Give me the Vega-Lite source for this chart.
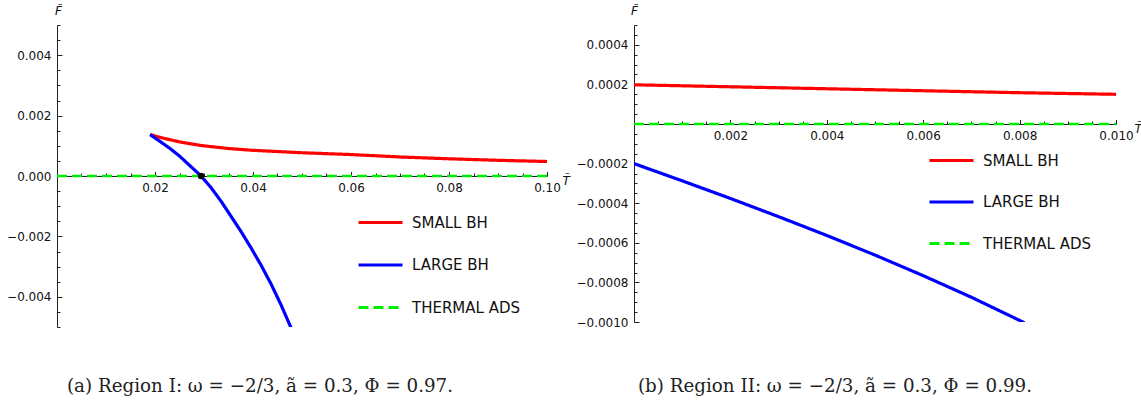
{
  "$schema": "https://vega.github.io/schema/vega-lite/v6.json",
  "background": "white",
  "padding": {"left": 6, "top": 4, "right": 5, "bottom": 5},
  "bounds": "flush",
  "spacing": 87,
  "config": {
    "view": {"stroke": null},
    "axis": {
      "grid": false,
      "domainColor": "#222222",
      "domainWidth": 1,
      "tickColor": "#222222",
      "tickWidth": 1,
      "labelFont": "DejaVu Sans",
      "labelFontSize": 12,
      "labelColor": "#111111",
      "labelPadding": 11,
      "labelFlush": false,
      "labelOverlap": false,
      "titleFont": "DejaVu Sans",
      "titleFontSize": 12,
      "titleFontStyle": "italic",
      "titleFontWeight": "normal",
      "titleColor": "#111111",
      "titleAngle": 0
    },
    "legend": {
      "labelFont": "DejaVu Sans",
      "labelFontSize": 15,
      "labelColor": "#111111",
      "symbolType": "stroke",
      "symbolSize": 1936,
      "symbolStrokeWidth": 3,
      "labelOffset": 8,
      "padding": 0
    },
    "title": {
      "font": "DejaVu Serif",
      "fontSize": 18.3,
      "fontWeight": "normal",
      "color": "#222222"
    }
  },
  "datasets": {
    "curvesA": [
      {"series": "SMALL BH", "T": 0.019, "F": 0.00137},
      {"series": "SMALL BH", "T": 0.0215, "F": 0.00126},
      {"series": "SMALL BH", "T": 0.025, "F": 0.00113},
      {"series": "SMALL BH", "T": 0.0294, "F": 0.00101},
      {"series": "SMALL BH", "T": 0.035, "F": 0.00091},
      {"series": "SMALL BH", "T": 0.04, "F": 0.00085},
      {"series": "SMALL BH", "T": 0.045, "F": 0.00081},
      {"series": "SMALL BH", "T": 0.05, "F": 0.00077},
      {"series": "SMALL BH", "T": 0.06, "F": 0.00071},
      {"series": "SMALL BH", "T": 0.07, "F": 0.00063},
      {"series": "SMALL BH", "T": 0.08, "F": 0.00057},
      {"series": "SMALL BH", "T": 0.09, "F": 0.00052},
      {"series": "SMALL BH", "T": 0.1, "F": 0.00048},
      {"series": "LARGE BH", "T": 0.019, "F": 0.00137},
      {"series": "LARGE BH", "T": 0.02, "F": 0.00126},
      {"series": "LARGE BH", "T": 0.0215, "F": 0.00109},
      {"series": "LARGE BH", "T": 0.023, "F": 0.00092},
      {"series": "LARGE BH", "T": 0.025, "F": 0.00066},
      {"series": "LARGE BH", "T": 0.027, "F": 0.00036},
      {"series": "LARGE BH", "T": 0.0294, "F": 0.0},
      {"series": "LARGE BH", "T": 0.0315, "F": -0.0004},
      {"series": "LARGE BH", "T": 0.0335, "F": -0.00084},
      {"series": "LARGE BH", "T": 0.0355, "F": -0.00133},
      {"series": "LARGE BH", "T": 0.0376, "F": -0.00185},
      {"series": "LARGE BH", "T": 0.0396, "F": -0.00238},
      {"series": "LARGE BH", "T": 0.0416, "F": -0.00294},
      {"series": "LARGE BH", "T": 0.0437, "F": -0.00358},
      {"series": "LARGE BH", "T": 0.0457, "F": -0.00426},
      {"series": "LARGE BH", "T": 0.0478, "F": -0.00504},
      {"series": "THERMAL ADS", "T": 0.0, "F": 0.0},
      {"series": "THERMAL ADS", "T": 0.1, "F": 0.0}
    ],
    "crossingA": [
      {"T": 0.0294, "F": 0.0}
    ],
    "curvesB": [
      {"series": "SMALL BH", "T": 0.0, "F": 0.000198},
      {"series": "SMALL BH", "T": 0.001, "F": 0.000193},
      {"series": "SMALL BH", "T": 0.002, "F": 0.000188},
      {"series": "SMALL BH", "T": 0.003, "F": 0.000183},
      {"series": "SMALL BH", "T": 0.004, "F": 0.000178},
      {"series": "SMALL BH", "T": 0.005, "F": 0.000173},
      {"series": "SMALL BH", "T": 0.006, "F": 0.000168},
      {"series": "SMALL BH", "T": 0.007, "F": 0.000163},
      {"series": "SMALL BH", "T": 0.008, "F": 0.000158},
      {"series": "SMALL BH", "T": 0.009, "F": 0.000154},
      {"series": "SMALL BH", "T": 0.01, "F": 0.00015},
      {"series": "LARGE BH", "T": 0.0, "F": -0.0002},
      {"series": "LARGE BH", "T": 0.001, "F": -0.000287},
      {"series": "LARGE BH", "T": 0.002, "F": -0.000376},
      {"series": "LARGE BH", "T": 0.003, "F": -0.000468},
      {"series": "LARGE BH", "T": 0.004, "F": -0.000563},
      {"series": "LARGE BH", "T": 0.005, "F": -0.000662},
      {"series": "LARGE BH", "T": 0.006, "F": -0.000766},
      {"series": "LARGE BH", "T": 0.007, "F": -0.000875},
      {"series": "LARGE BH", "T": 0.008, "F": -0.000992},
      {"series": "LARGE BH", "T": 0.0081, "F": -0.001004},
      {"series": "THERMAL ADS", "T": 0.0, "F": 0.0},
      {"series": "THERMAL ADS", "T": 0.01, "F": 0.0}
    ]
  },
  "resolve": {
    "scale": {"color": "independent", "strokeDash": "independent"},
    "legend": {"color": "independent", "strokeDash": "independent"}
  },
  "hconcat": [
    {
      "width": 490,
      "height": 302,
      "title": {
        "text": "(a) Region I: ω = −2/3, ã = 0.3, Φ = 0.97.",
        "orient": "bottom",
        "anchor": "middle",
        "frame": "group",
        "dx": -42,
        "offset": 45
      },
      "encoding": {
        "x": {
          "field": "T",
          "type": "quantitative",
          "scale": {"domain": [0, 0.1], "nice": false, "zero": false},
          "axis": {
            "title": "T̃",
            "orient": "bottom",
            "offset": -151,
            "values": [0, 0.005, 0.01, 0.015, 0.02, 0.025, 0.03, 0.035, 0.04, 0.045, 0.05, 0.055, 0.06, 0.065, 0.07, 0.075, 0.08, 0.085, 0.09, 0.095, 0.1],
            "labelExpr": "abs(datum.value / 0.02 - round(datum.value / 0.02)) < 0.01 && datum.value > 0.001 ? format(datum.value, '.2f') : ''",
            "tickSize": {"condition": {"test": "abs(datum.value / 0.02 - round(datum.value / 0.02)) < 0.01", "value": -4.5}, "value": -3},
            "titleX": 505,
            "titleY": 8,
            "titleAlign": "left",
            "titleBaseline": "alphabetic"
          }
        },
        "y": {
          "field": "F",
          "type": "quantitative",
          "scale": {"domain": [-0.005, 0.005], "nice": false, "zero": false},
          "axis": {
            "title": "F̃",
            "values": [-0.005, -0.0045, -0.004, -0.0035, -0.003, -0.0025, -0.002, -0.0015, -0.001, -0.0005, 0, 0.0005, 0.001, 0.0015, 0.002, 0.0025, 0.003, 0.0035, 0.004, 0.0045, 0.005],
            "labelExpr": "abs(datum.value / 0.002 - round(datum.value / 0.002)) < 0.01 ? format(datum.value, '.3f') : ''",
            "tickSize": {"condition": {"test": "abs(datum.value / 0.002 - round(datum.value / 0.002)) < 0.01", "value": -5}, "value": -3},
            "titleX": 1,
            "titleY": -10.5,
            "titleAlign": "center",
            "titleBaseline": "alphabetic"
          }
        }
      },
      "layer": [
        {
          "data": {"name": "curvesA"},
          "mark": {"type": "line", "clip": true},
          "encoding": {
            "color": {
              "field": "series",
              "type": "nominal",
              "scale": {"domain": ["SMALL BH", "LARGE BH", "THERMAL ADS"], "range": ["#ff0000", "#0000ff", "#00ee00"]},
              "legend": {"title": null, "orient": "none", "legendX": 300, "legendY": 174, "rowPadding": 10.5}
            },
            "strokeDash": {
              "field": "series",
              "type": "nominal",
              "scale": {"domain": ["SMALL BH", "LARGE BH", "THERMAL ADS"], "range": [[1, 0], [1, 0], [10, 5]]},
              "legend": {"title": null, "orient": "none", "legendX": 300, "legendY": 174, "rowPadding": 10.5}
            },
            "strokeWidth": {
              "condition": {"test": "datum.series === 'THERMAL ADS'", "value": 2.5},
              "value": 3.2
            }
          }
        },
        {
          "data": {"name": "crossingA"},
          "mark": {"type": "point", "filled": true, "color": "#000000", "size": 42, "opacity": 1}
        }
      ]
    },
    {
      "width": 482,
      "height": 297,
      "title": {
        "text": "(b) Region II: ω = −2/3, ã = 0.3, Φ = 0.99.",
        "orient": "bottom",
        "anchor": "middle",
        "frame": "group",
        "dx": -40,
        "offset": 50
      },
      "data": {"name": "curvesB"},
      "mark": {"type": "line", "clip": true},
      "encoding": {
        "x": {
          "field": "T",
          "type": "quantitative",
          "scale": {"domain": [0, 0.01], "nice": false, "zero": false},
          "axis": {
            "title": "T̃",
            "orient": "bottom",
            "offset": -198,
            "values": [0, 0.0005, 0.001, 0.0015, 0.002, 0.0025, 0.003, 0.0035, 0.004, 0.0045, 0.005, 0.0055, 0.006, 0.0065, 0.007, 0.0075, 0.008, 0.0085, 0.009, 0.0095, 0.01],
            "labelExpr": "abs(datum.value / 0.002 - round(datum.value / 0.002)) < 0.01 && datum.value > 0.0001 ? format(datum.value, '.3f') : ''",
            "tickSize": {"condition": {"test": "abs(datum.value / 0.002 - round(datum.value / 0.002)) < 0.01", "value": -4.5}, "value": -3},
            "titleX": 500,
            "titleY": 8,
            "titleAlign": "left",
            "titleBaseline": "alphabetic"
          }
        },
        "y": {
          "field": "F",
          "type": "quantitative",
          "scale": {"domain": [-0.001, 0.0005], "nice": false, "zero": false},
          "axis": {
            "title": "F̃",
            "values": [-0.001, -0.00095, -0.0009, -0.00085, -0.0008, -0.00075, -0.0007, -0.00065, -0.0006, -0.00055, -0.0005, -0.00045, -0.0004, -0.00035, -0.0003, -0.00025, -0.0002, -0.00015, -0.0001, -0.00005, 0, 0.00005, 0.0001, 0.00015, 0.0002, 0.00025, 0.0003, 0.00035, 0.0004, 0.00045, 0.0005],
            "labelExpr": "abs(datum.value / 0.0002 - round(datum.value / 0.0002)) < 0.01 && abs(datum.value) > 0.00001 ? format(datum.value, '.4f') : ''",
            "tickSize": {"condition": {"test": "abs(datum.value / 0.0002 - round(datum.value / 0.0002)) < 0.01", "value": -5}, "value": -3},
            "titleX": 0,
            "titleY": -10.5,
            "titleAlign": "center",
            "titleBaseline": "alphabetic"
          }
        },
        "color": {
          "field": "series",
          "type": "nominal",
          "scale": {"domain": ["SMALL BH", "LARGE BH", "THERMAL ADS"], "range": ["#ff0000", "#0000ff", "#00ee00"]},
          "legend": {"title": null, "orient": "none", "legendX": 294, "legendY": 112, "rowPadding": 9.5}
        },
        "strokeDash": {
          "field": "series",
          "type": "nominal",
          "scale": {"domain": ["SMALL BH", "LARGE BH", "THERMAL ADS"], "range": [[1, 0], [1, 0], [10, 5]]},
          "legend": {"title": null, "orient": "none", "legendX": 294, "legendY": 112, "rowPadding": 9.5}
        },
        "strokeWidth": {
          "condition": {"test": "datum.series === 'THERMAL ADS'", "value": 2.5},
          "value": 3.2
        }
      }
    }
  ]
}
